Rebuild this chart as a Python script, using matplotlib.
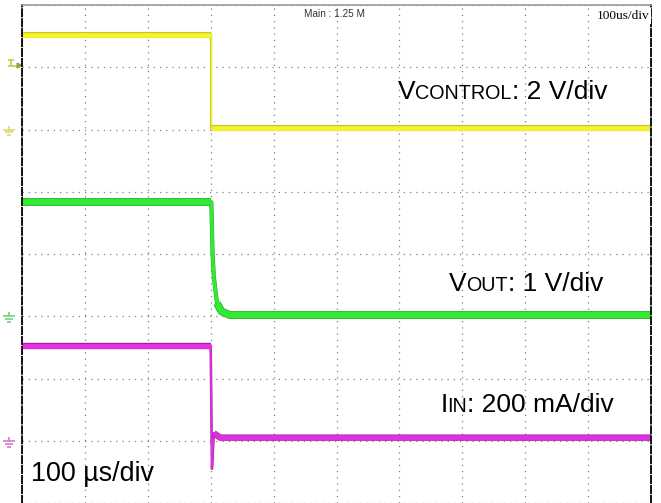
import matplotlib.pyplot as plt
import matplotlib.patheffects as pe
from matplotlib.transforms import offset_copy

# time axis in divisions (100 us/div), amplitudes in screen divisions
ctrl_t = [0, 3.0, 3.0, 10]
ctrl_v = [7.52, 7.52, 6.02, 6.02]

vout_t = [0, 3.01, 3.03, 3.05, 3.10, 3.17, 3.30, 10]
vout_v = [4.83, 4.83, 4.00, 3.63, 3.21, 3.08, 3.02, 3.02]

iin_t = [0, 3.0, 3.02, 3.05, 3.15, 10]
iin_v = [2.52, 2.52, 0.55, 1.12, 1.05, 1.05]

ground_levels = [6.0, 3.0, 1.0]
trace_colors = ["#f4f426", "#33ea33", "#e030e0"]
edge_colors = ["#c4c438", "#23a823", "#a322a3"]
marker_colors = ["#d4d46a", "#6ccc6c", "#d070d0"]

plt.rcParams['font.family'] = ['Liberation Sans', 'DejaVu Sans']

fig = plt.figure(figsize=(6.61, 5.03), dpi=100)
ax = fig.add_axes([22 / 661, 0, 629 / 661, 498 / 503])
ax.set_xlim(0, 10)
ax.set_ylim(0.095, 8)

ax.set_xticks(range(0, 11))
ax.set_yticks(range(0, 9))
ax.tick_params(length=0, labelleft=False, labelbottom=False)
ax.grid(True, linestyle=(0, (1, 4)), color="#808080", linewidth=0.9)

for side in ("left", "right"):
    ax.spines[side].set_linestyle((0, (4, 1.5)))
    ax.spines[side].set_color("black")
    ax.spines[side].set_linewidth(1.3)
ax.spines["top"].set_color("#9a9a9a")
ax.spines["top"].set_linewidth(1.2)
ax.spines["bottom"].set_visible(False)


def gentle_runs(t, v, max_slope=2.5):
    # contiguous stretches where the trace is slow enough to show its noise band
    runs, cur = [], None
    for i in range(len(t) - 1):
        dt = t[i + 1] - t[i]
        ok = dt > 0 and abs(v[i + 1] - v[i]) / dt < max_slope
        if ok:
            if cur is None:
                cur = [i]
            cur.append(i + 1)
        elif cur is not None:
            runs.append(cur)
            cur = None
    if cur is not None:
        runs.append(cur)
    return runs


# (time, value, edge width, band width)
traces = [(ctrl_t, ctrl_v, 1.0, 3.4), (vout_t, vout_v, 2.4, 4.6),
          (iin_t, iin_v, 1.2, 3.6)]
for (t, v, thin, band), c, ec in zip(traces, trace_colors, edge_colors):
    ax.plot(t, v, color=c, lw=thin, solid_joinstyle="round",
            path_effects=[pe.Stroke(linewidth=thin + 0.6, foreground=ec), pe.Normal()])
    for run in gentle_runs(t, v):
        ax.plot([t[i] for i in run], [v[i] for i in run], color=c, lw=band,
                solid_capstyle="butt", solid_joinstyle="round",
                path_effects=[pe.Stroke(linewidth=band + 1.0, foreground=ec),
                              pe.Normal()])

# ground reference markers left of the screen
px = 1 / 63
for level, mc in zip(ground_levels, marker_colors):
    kw = dict(color=mc, lw=1.1, clip_on=False, solid_capstyle="butt")
    ax.plot([-13 * px, -13 * px], [level + 4 * px, level], **kw)
    ax.plot([-19 * px, -7 * px], [level, level], **kw)
    ax.plot([-17 * px, -9 * px], [level - 3 * px, level - 3 * px], **kw)
    ax.plot([-15 * px, -11 * px], [level - 6 * px, level - 6 * px], **kw)

# trigger level marker
tk = dict(color="#c8c850", lw=1.2, clip_on=False, solid_capstyle="butt")
ax.plot([-14 * px, -8 * px], [7.0 + 7 * px, 7.0 + 7 * px], **tk)
ax.plot([-11 * px, -11 * px], [7.0 + 7 * px, 7.0 + 1 * px], **tk)
ax.plot([-14 * px, -4 * px], [7.0 + 1 * px, 7.0 + 1 * px], **tk)
ax.plot([-3 * px], [7.0 + 2 * px], marker=">", ms=3.5, color="#a0a040", clip_on=False)

fig.canvas.draw()
renderer = fig.canvas.get_renderer()


def rich_label(x, y, parts):
    # place text pieces side by side on a shared baseline
    shift = 0.0
    for s, size in parts:
        tr = offset_copy(ax.transData, fig=fig, x=shift, y=0, units="points")
        t = ax.text(x, y, s, fontsize=size, transform=tr, va="baseline", ha="left")
        shift += t.get_window_extent(renderer).width * 72 / fig.dpi


rich_label(5.97, 6.49, [("V", 19), ("CONTROL", 14.2), (": 2 V/div", 19)])
rich_label(6.78, 3.40, [("V", 19), ("OUT", 14.2), (": 1 V/div", 19)])
rich_label(6.65, 1.46, [("I", 19), ("IN", 14.2), (": 200 mA/div", 19)])
ax.text(0.15, 0.35, "100 µs/div", fontsize=19.4, va="baseline", ha="left")

ax.text(4.97, 7.81, "Main : 1.25 M", fontsize=7.2, color="#333333",
        va="baseline", ha="center")
ax.text(9.97, 7.78, "100us/div", fontsize=9.6, family="Liberation Serif",
        va="baseline", ha="right",
        bbox=dict(facecolor="white", edgecolor="none", pad=1.5))

fig.savefig("out.png", dpi=100)
